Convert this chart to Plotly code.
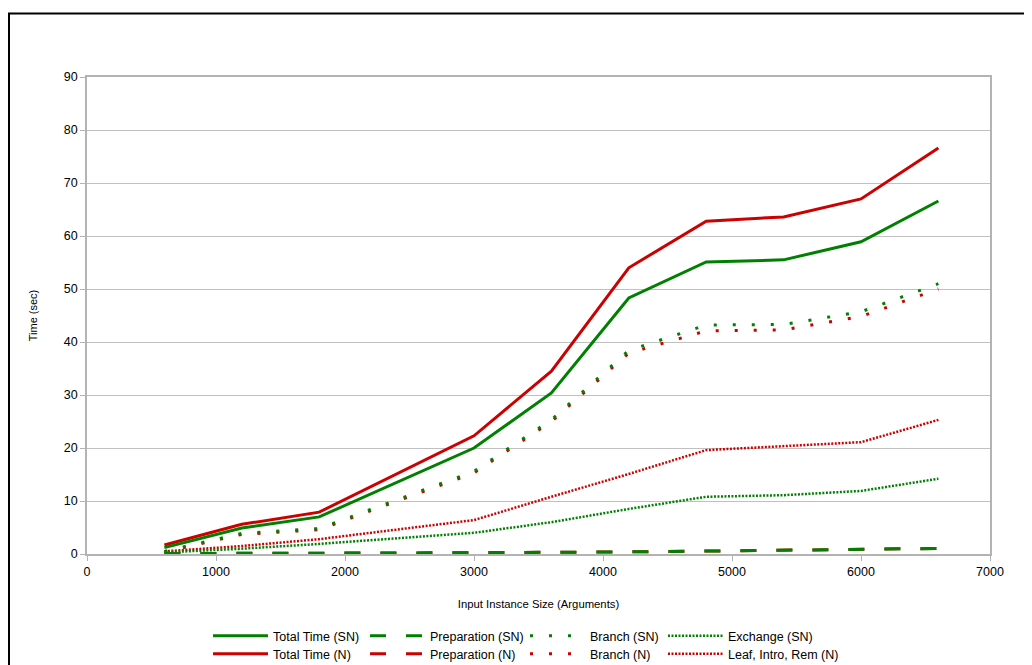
import plotly.graph_objects as go

sizes = [600, 1200, 1800, 3000, 3600, 4200, 4800, 5400, 6000, 6600]

total_sn = [1.2, 4.9, 7.0, 20.0, 30.4, 48.3, 55.1, 55.5, 58.9, 66.6]
prep_sn = [0.1, 0.1, 0.15, 0.25, 0.3, 0.4, 0.55, 0.7, 0.85, 1.05]
branch_sn = [0.5, 3.9, 4.8, 15.6, 25.3, 38.4, 43.2, 43.3, 45.7, 51.0]
exchange_sn = [0.3, 1.0, 1.9, 4.0, 6.0, 8.5, 10.8, 11.1, 11.9, 14.2]

total_n = [1.7, 5.6, 7.9, 22.3, 34.5, 54.0, 62.8, 63.6, 67.0, 76.6]
prep_n = [0.1, 0.1, 0.15, 0.25, 0.3, 0.4, 0.55, 0.7, 0.85, 1.05]
branch_n = [0.4, 3.7, 4.6, 15.3, 25.0, 37.9, 42.1, 42.3, 44.8, 50.0]
leaf_n = [0.5, 1.5, 2.8, 6.4, 10.8, 15.1, 19.6, 20.4, 21.1, 25.3]

GREEN = "#008000"
RED = "#cc0000"

OFF = 8  # default page body margin
W, H = 1032 - OFF, 665 - OFF
L = 87 - OFF
T = 77 - OFF
R = W - (990 - OFF)
B = H - (554 - OFF)
pw, ph = W - L - R, H - T - B


def px(x):  # page x -> paper x
    return (x - OFF - L) / pw


def py(y):  # page y -> paper y
    return (H - B - (y - OFF)) / ph


def cx(x):  # page x -> container x
    return (x - OFF) / W


def cy(y):  # page y -> container y
    return 1 - (y - OFF) / H


# legend slot positions (page px): symbol start x per column, row centre y
COL_X = [213, 370, 530, 668]
ROW_Y = [636, 654]
LEG_DX = 5

fig = go.Figure()
legends = {}


def add(name, ys, color, dash, width, col, row):
    lid = "legend" if (col == 0 and row == 0) else "legend%d" % (row * 4 + col + 1)
    fig.add_trace(go.Scatter(
        x=sizes, y=ys, name=name, mode="lines",
        line=dict(color=color, dash=dash, width=width),
        legend=lid,
    ))
    legends[lid] = dict(
        xref="container", yref="container", orientation="h",
        x=cx(COL_X[col] - LEG_DX), xanchor="left",
        y=cy(ROW_Y[row]), yanchor="middle",
        itemwidth=55, font=dict(size=12.5, color="#000000"),
        bgcolor="rgba(0,0,0,0)", borderwidth=0,
    )


# N series drawn first (underneath)
add("Total Time (N)", total_n, RED, "solid", 3, 0, 1)
add("Preparation (N)", prep_n, RED, "16px,20px", 3, 1, 1)
add("Branch (N)", branch_n, RED, "3px,16px", 3, 2, 1)
add("Leaf, Intro, Rem (N)", leaf_n, RED, "2px,1.5px", 2.5, 3, 1)
add("Total Time (SN)", total_sn, GREEN, "solid", 3, 0, 0)
add("Preparation (SN)", prep_sn, GREEN, "16px,20px", 3, 1, 0)
add("Branch (SN)", branch_sn, GREEN, "3px,16px", 3, 2, 0)
add("Exchange (SN)", exchange_sn, GREEN, "2px,1.5px", 2.5, 3, 0)

fig.add_shape(type="rect", xref="paper", yref="paper",
              x0=px(9), x1=px(1045), y0=py(680), y1=py(13.5),
              line=dict(color="black", width=2), fillcolor="rgba(0,0,0,0)",
              layer="above")

fig.update_layout(
    width=W, height=H,
    margin=dict(l=L, r=R, t=T, b=B),
    paper_bgcolor="white", plot_bgcolor="white",
    font=dict(family="Liberation Sans, Arial, sans-serif", size=12.5, color="#000000"),
    showlegend=True,
    xaxis=dict(
        range=[0, 7000], tickvals=[0, 1000, 2000, 3000, 4000, 5000, 6000, 7000],
        showgrid=False, zeroline=False,
        showline=True, linecolor="#b3b3b3", linewidth=1.5, mirror=True,
        ticks="outside", ticklen=5, tickcolor="#b3b3b3",
        title=dict(text="Input Instance Size (Arguments)", font=dict(size=11.3), standoff=22),
        tickfont=dict(size=12.5),
    ),
    yaxis=dict(
        range=[0, 90], dtick=10,
        showgrid=True, gridcolor="#c0c0c0", gridwidth=1, zeroline=False,
        showline=True, linecolor="#b3b3b3", linewidth=1.5, mirror=True,
        ticks="outside", ticklen=5, tickcolor="#b3b3b3",
        title=dict(text="Time (sec)", font=dict(size=11), standoff=24),
        tickfont=dict(size=12.5),
    ),
)
fig.update_layout(**legends)

fig.write_html("out.html")
